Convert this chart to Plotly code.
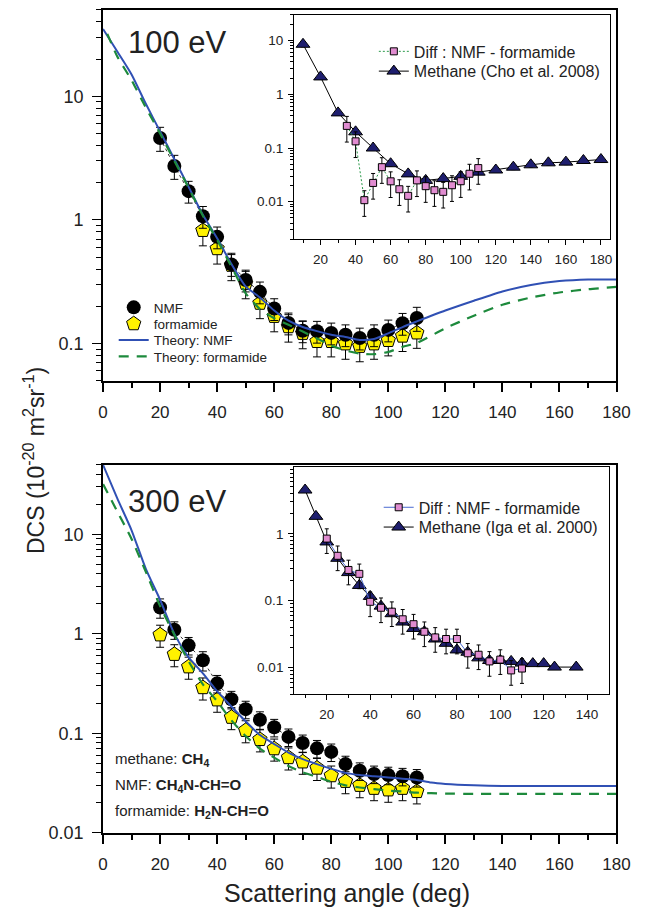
import math
import plotly.graph_objects as go

W, H = 647, 912
FONT = "Liberation Sans, Arial, sans-serif"

# ---------------- 100 eV : main panel ----------------
ang_nmf100 = [20, 25, 30, 35, 40, 45, 50, 55, 60, 65, 70, 75, 80, 85, 90, 95, 100, 105, 110]
nmf100 = [4.6, 2.73, 1.71, 1.07, 0.73, 0.437, 0.327, 0.262, 0.192, 0.147, 0.127, 0.126,
          0.122, 0.118, 0.111, 0.118, 0.129, 0.146, 0.161]
nmf100_rel = [0.22, 0.22, 0.2, 0.2, 0.2, 0.2, 0.2, 0.2, 0.2, 0.2, 0.2, 0.2,
              0.2, 0.2, 0.2, 0.2, 0.2, 0.2, 0.22]
ang_form100 = [35, 40, 45, 50, 55, 60, 65, 70, 75, 80, 85, 90, 95, 100, 105, 110]
form100 = [0.823, 0.586, 0.43, 0.307, 0.212, 0.166, 0.137, 0.121, 0.104, 0.104, 0.0995,
           0.095, 0.0995, 0.106, 0.115, 0.122]
form100_rel = [0.25, 0.25, 0.25, 0.25, 0.25, 0.25, 0.25, 0.25, 0.25, 0.25, 0.25,
               0.25, 0.25, 0.25, 0.25, 0.25]

th_ang100 = [0, 5, 10, 15, 20, 25, 30, 35, 40, 45, 50, 55, 60, 65, 70, 75, 80, 85, 90, 95,
             100, 105, 110, 120, 130, 140, 150, 160, 170, 180]
th_nmf100 = [35, 23, 15, 8.7, 5.2, 3.1, 1.85, 1.1, 0.71, 0.44, 0.29, 0.236, 0.185, 0.153,
             0.136, 0.126, 0.118, 0.113, 0.107, 0.109, 0.121, 0.136, 0.151, 0.185, 0.222,
             0.264, 0.298, 0.32, 0.33, 0.33]
th_ang100f = [1.5, 5, 10, 15, 20, 25, 30, 35, 40, 45, 50, 55, 60, 65, 70, 75, 80, 85, 90, 95,
              100, 105, 110, 120, 130, 140, 150, 160, 170, 180]
th_form100 = [32, 21, 13.5, 8.1, 5.0, 3.0, 1.82, 1.08, 0.69, 0.42, 0.255, 0.19, 0.16, 0.142,
              0.125, 0.11, 0.096, 0.088, 0.083, 0.082, 0.0855, 0.094, 0.101, 0.133, 0.168,
              0.206, 0.236, 0.259, 0.275, 0.287]

# ---------------- 100 eV : inset ----------------
ang_cho = [10, 20, 30, 40, 50, 60, 70, 80, 90, 100, 110, 120, 130, 140, 150, 160, 170, 180]
methane_cho = [8.5, 2.1, 0.45, 0.2, 0.1, 0.051, 0.033, 0.025, 0.027, 0.0297, 0.0356, 0.039,
               0.044, 0.0487, 0.053, 0.0546, 0.0586, 0.061]
methane_cho_rel = [0.1, 0.1, 0.1, 0.1, 0.1, 0.1, 0.1, 0.1, 0.1, 0.1, 0.1, 0.1,
                   0.1, 0.1, 0.1, 0.1, 0.1, 0.1]
ang_diff100 = [35, 40, 45, 50, 55, 60, 65, 70, 75, 80, 85, 90, 95, 100, 105, 110]
diff100 = [0.258, 0.133, 0.0107, 0.0224, 0.044, 0.024, 0.0171, 0.0129, 0.025, 0.0195,
           0.0164, 0.0153, 0.0203, 0.0241, 0.0332, 0.0423]
diff100_rel = [0.5, 0.5, 0.5, 0.5, 0.5, 0.5, 0.5, 0.5, 0.5, 0.5, 0.5, 0.5, 0.5, 0.5, 0.5, 0.5]

# ---------------- 300 eV : main panel ----------------
ang_exp300 = [20, 25, 30, 35, 40, 45, 50, 55, 60, 65, 70, 75, 80, 85, 90, 95, 100, 105, 110]
nmf300 = [1.84, 1.10, 0.766, 0.542, 0.318, 0.22, 0.175, 0.137, 0.115, 0.092, 0.080, 0.0706,
          0.065, 0.049, 0.042, 0.039, 0.038, 0.037, 0.036]
nmf300_rel = [0.22, 0.2, 0.2, 0.22, 0.2, 0.2, 0.2, 0.2, 0.2, 0.2, 0.2, 0.2,
              0.2, 0.2, 0.2, 0.2, 0.2, 0.2, 0.2]
form300 = [0.977, 0.622, 0.466, 0.288, 0.217, 0.145, 0.107, 0.0867, 0.070, 0.057, 0.0516,
           0.0447, 0.0375, 0.0329, 0.030, 0.028, 0.027, 0.028, 0.026]
form300_rel = [0.25, 0.25, 0.25, 0.25, 0.25, 0.25, 0.25, 0.25, 0.25, 0.25, 0.25,
               0.25, 0.25, 0.25, 0.25, 0.25, 0.25, 0.25, 0.25]

th_ang300 = [0, 5, 10, 15, 20, 25, 30, 35, 40, 45, 50, 55, 60, 65, 70, 75, 80, 85, 90, 95,
             100, 105, 110, 115, 120, 130, 140, 160, 180]
th_nmf300 = [50, 23, 11, 4.5, 2.2, 1.0, 0.58, 0.40, 0.265, 0.186, 0.132, 0.096, 0.078, 0.064,
             0.055, 0.049, 0.044, 0.040, 0.038, 0.037, 0.036, 0.035, 0.034, 0.032, 0.031,
             0.030, 0.0295, 0.0295, 0.0295]
th_form300 = [32, 17, 9, 4.2, 1.9, 0.98, 0.53, 0.31, 0.21, 0.135, 0.094, 0.070, 0.057, 0.047,
              0.0405, 0.0365, 0.0325, 0.030, 0.0285, 0.0275, 0.0265, 0.026, 0.0253, 0.025,
              0.0248, 0.0246, 0.0246, 0.0246, 0.0246]

# ---------------- 300 eV : inset ----------------
ang_iga = [10, 15, 20, 25, 30, 35, 40, 45, 50, 55, 60, 65, 70, 75, 80, 85, 90, 95, 100, 105,
           110, 115, 120, 125, 135]
methane_iga = [4.5, 1.82, 0.755, 0.43, 0.263, 0.169, 0.116, 0.083, 0.064, 0.048, 0.0385,
               0.0344, 0.0268, 0.0231, 0.0184, 0.017, 0.014, 0.0128, 0.0128, 0.0124, 0.0117,
               0.0115, 0.0115, 0.0102, 0.0102]
ang_diff300 = [20, 25, 30, 35, 40, 45, 50, 55, 60, 65, 70, 75, 80, 85, 90, 95, 100, 105, 110]
diff300 = [0.847, 0.469, 0.288, 0.252, 0.0964, 0.0785, 0.0686, 0.0528, 0.0446, 0.0344, 0.0283,
           0.0268, 0.0268, 0.0164, 0.0156, 0.0124, 0.0132, 0.0091, 0.0097]
diff300_rel = [0.4, 0.4, 0.4, 0.4, 0.4, 0.4, 0.4, 0.4, 0.4, 0.4, 0.4, 0.4, 0.4, 0.4, 0.4,
               0.4, 0.4, 0.4, 0.4]

x_ticks = [0, 20, 40, 60, 80, 100, 120, 140, 160, 180]
x_minor = [10, 30, 50, 70, 90, 110, 130, 150, 170]

# colours
BLUE = "#3050b4"
GREEN = "#1d8a3c"
YELLOW = "#fff200"
PINK = "#e08cd0"
NAVY = "#1e1e6e"

DY = 6  # vertical offset of the lower half (px)


def px(xp):
    return xp / W


def py(yp):
    return 1 - yp / H


def err(vals, rel, width=4):
    return dict(type="data", symmetric=False,
                array=[v * r for v, r in zip(vals, rel)],
                arrayminus=[v * r for v, r in zip(vals, rel)],
                color="black", thickness=1, width=width)


def minor_log(lo, hi):
    out = []
    d = math.floor(math.log10(lo))
    while 10 ** d <= hi:
        for m in range(2, 10):
            v = m * 10 ** d
            if lo * 0.999 <= v <= hi * 1.001:
                out.append(v)
        d += 1
    return out


fig = go.Figure()

# ---- top main ----
fig.add_trace(go.Scatter(x=ang_form100, y=form100, mode="markers", name="formamide",
                         marker=dict(symbol="pentagon", size=15, color=YELLOW,
                                     line=dict(color="black", width=1)),
                         error_y=err(form100, form100_rel), xaxis="x", yaxis="y",
                         legend="legend2"))
fig.add_trace(go.Scatter(x=ang_nmf100, y=nmf100, mode="lines", showlegend=False,
                         line=dict(color="black", width=0.8, dash="3px,3px"),
                         xaxis="x", yaxis="y"))
fig.add_trace(go.Scatter(x=ang_nmf100, y=nmf100, mode="markers", name="NMF",
                         marker=dict(symbol="circle", size=14, color="black"),
                         error_y=err(nmf100, nmf100_rel), xaxis="x", yaxis="y",
                         legend="legend"))
fig.add_trace(go.Scatter(x=th_ang100, y=th_nmf100, mode="lines", name="Theory: NMF",
                         line=dict(color=BLUE, width=2, shape="spline", smoothing=0.6),
                         xaxis="x", yaxis="y", legend="legend3"))
fig.add_trace(go.Scatter(x=th_ang100f, y=th_form100, mode="lines", name="Theory: formamide",
                         line=dict(color=GREEN, width=2.2, dash="10px,8px", shape="spline",
                                   smoothing=0.6),
                         xaxis="x", yaxis="y", legend="legend4"))

# ---- top inset ----
fig.add_trace(go.Scatter(x=ang_cho, y=methane_cho, mode="lines+markers",
                         name="Methane (Cho et al. 2008)",
                         line=dict(color="black", width=1),
                         marker=dict(symbol="triangle-up", size=12, color=NAVY,
                                     line=dict(color="black", width=1)),
                         error_y=err(methane_cho, methane_cho_rel, 2),
                         xaxis="x3", yaxis="y3", legend="legend6"))
fig.add_trace(go.Scatter(x=ang_diff100, y=diff100, mode="lines+markers",
                         name="Diff : NMF - formamide",
                         line=dict(color="#2a9a4a", width=1, dash="2px,2px"),
                         marker=dict(symbol="square", size=7, color=PINK,
                                     line=dict(color="black", width=1)),
                         error_y=err(diff100, diff100_rel, 2),
                         xaxis="x3", yaxis="y3", legend="legend5"))

# ---- bottom main ----
fig.add_trace(go.Scatter(x=ang_exp300, y=form300, mode="markers", showlegend=False,
                         marker=dict(symbol="pentagon", size=15, color=YELLOW,
                                     line=dict(color="black", width=1)),
                         error_y=err(form300, form300_rel), xaxis="x2", yaxis="y2"))
fig.add_trace(go.Scatter(x=ang_exp300, y=nmf300, mode="lines", showlegend=False,
                         line=dict(color="black", width=0.8, dash="3px,3px"),
                         xaxis="x2", yaxis="y2"))
fig.add_trace(go.Scatter(x=ang_exp300, y=nmf300, mode="markers", showlegend=False,
                         marker=dict(symbol="circle", size=14, color="black"),
                         error_y=err(nmf300, nmf300_rel), xaxis="x2", yaxis="y2"))
fig.add_trace(go.Scatter(x=th_ang300, y=th_nmf300, mode="lines", showlegend=False,
                         line=dict(color=BLUE, width=2, shape="spline", smoothing=0.6),
                         xaxis="x2", yaxis="y2"))
fig.add_trace(go.Scatter(x=th_ang300, y=th_form300, mode="lines", showlegend=False,
                         line=dict(color=GREEN, width=2.2, dash="10px,8px", shape="spline",
                                   smoothing=0.6),
                         xaxis="x2", yaxis="y2"))

# ---- bottom inset ----
fig.add_trace(go.Scatter(x=ang_iga, y=methane_iga, mode="lines+markers",
                         name="Methane (Iga et al. 2000)",
                         line=dict(color="black", width=1),
                         marker=dict(symbol="triangle-up", size=12, color=NAVY,
                                     line=dict(color="black", width=1)),
                         xaxis="x4", yaxis="y4", legend="legend8"))
fig.add_trace(go.Scatter(x=ang_diff300, y=diff300, mode="lines+markers",
                         name="Diff : NMF - formamide",
                         line=dict(color="#4a6ad0", width=1),
                         marker=dict(symbol="square", size=7, color=PINK,
                                     line=dict(color="black", width=1)),
                         error_y=err(diff300, diff300_rel, 2),
                         xaxis="x4", yaxis="y4", legend="legend7"))


def main_x(domain, anchor):
    return dict(domain=domain, anchor=anchor, range=[0, 180], tickvals=x_ticks,
                ticktext=[str(v) for v in x_ticks],
                ticks="outside", ticklen=9, tickwidth=1.5, tickcolor="black",
                showline=True, linewidth=2, linecolor="black", mirror=True,
                showgrid=False, zeroline=False, ticklabelstandoff=6,
                tickfont=dict(size=17, family=FONT, color="#222"),
                minor=dict(tickvals=x_minor, ticks="outside", ticklen=5, tickwidth=1.5,
                           tickcolor="black", showgrid=False))


def log_y(domain, anchor, lo, hi, vals, size, ticklen, minlen, lw, standoff):
    return dict(domain=domain, anchor=anchor, type="log",
                range=[math.log10(lo), math.log10(hi)],
                tickvals=vals, ticktext=[("%g" % v) for v in vals],
                ticks="outside", ticklen=ticklen, tickwidth=1.2, tickcolor="black",
                showline=True, linewidth=lw, linecolor="black", mirror=True,
                showgrid=False, zeroline=False, ticklabelstandoff=standoff,
                tickfont=dict(size=size, family=FONT, color="#222"),
                minor=dict(tickvals=minor_log(lo, hi), ticks="outside", ticklen=minlen,
                           tickwidth=1, tickcolor="black", showgrid=False))


def inset_x(domain, anchor, lo, hi, vals, minors):
    return dict(domain=domain, anchor=anchor, range=[lo, hi], tickvals=vals,
                ticktext=[str(v) for v in vals], ticks="outside", ticklen=5,
                tickwidth=1, tickcolor="black", showline=True, linewidth=1.3,
                linecolor="black", mirror=True, showgrid=False, zeroline=False,
                ticklabelstandoff=2,
                tickfont=dict(size=13.5, family=FONT, color="#222"),
                minor=dict(tickvals=minors, ticks="outside", ticklen=3, tickwidth=1,
                           tickcolor="black", showgrid=False))


def leg(xp, yp, size):
    return dict(x=px(xp), y=py(yp), xanchor="left", yanchor="middle",
                bgcolor="rgba(0,0,0,0)", borderwidth=0, itemwidth=30,
                font=dict(size=size, family=FONT, color="#222"),
                tracegroupgap=0)


fig.update_layout(
    width=W, height=H, margin=dict(l=0, r=0, t=0, b=0),
    paper_bgcolor="white", plot_bgcolor="white",
    font=dict(family=FONT, color="#222"),
    xaxis=main_x([px(101), px(630)], "y"),
    yaxis=log_y([py(385), py(10)], "x", 0.05, 50, [0.1, 1, 10], 18, 9, 5, 2, 5),
    xaxis2=main_x([px(101), px(630)], "y2"),
    yaxis2=log_y([py(836 + DY), py(464 + DY)], "x2", 0.01, 50, [0.01, 0.1, 1, 10],
                 18, 9, 5, 2, 5),
    xaxis3=inset_x([px(298), px(623)], "y3", 5, 185,
                   [20, 40, 60, 80, 100, 120, 140, 160, 180],
                   [10, 30, 50, 70, 90, 110, 130, 150, 170]),
    yaxis3=log_y([py(242), py(15)], "x3", 0.002, 30, [0.01, 0.1, 1, 10], 13.5, 5, 3, 1.3, 2),
    xaxis4=inset_x([px(298), px(622)], "y4", 5, 150,
                   [20, 40, 60, 80, 100, 120, 140],
                   [10, 30, 50, 70, 90, 110, 130]),
    yaxis4=log_y([py(696 + DY), py(466 + DY)], "x4", 0.004, 10, [0.01, 0.1, 1],
                 13.5, 5, 3, 1.3, 2),
    legend=leg(112, 311, 13.5),
    legend2=leg(112, 327.5, 13.5),
    legend3=leg(112, 344, 13.5),
    legend4=leg(112, 360.5, 13.5),
    legend5=leg(380, 52, 16),
    legend6=leg(380, 72, 16),
    legend7=leg(385, 507 + DY, 16),
    legend8=leg(385, 527 + DY, 16),
    showlegend=True,
)

annots = [
    dict(text="100 eV", x=px(178), y=py(43), font=dict(size=31)),
    dict(text="300 eV", x=px(178), y=py(501 + DY), font=dict(size=31)),
    dict(text="DCS (10<sup>-20</sup> m<sup>2</sup>sr<sup>-1</sup>)", x=px(30), y=py(466),
         textangle=-90, font=dict(size=23)),
    dict(text="Scattering angle (deg)", x=px(352), y=py(903), font=dict(size=25)),
    dict(text="methane: <b>CH<sub>4</sub></b>", x=px(111), y=py(762 + DY), xanchor="left",
         font=dict(size=15)),
    dict(text="NMF: <b>CH<sub>4</sub>N-CH=O</b>", x=px(111), y=py(788 + DY), xanchor="left",
         font=dict(size=15)),
    dict(text="formamide: <b>H<sub>2</sub>N-CH=O</b>", x=px(111), y=py(815 + DY),
         xanchor="left", font=dict(size=15)),
]
for a in annots:
    a.setdefault("xanchor", "center")
    a.update(xref="paper", yref="paper", yanchor="middle", showarrow=False)
    a["font"].update(family=FONT, color="#222")
    fig.add_annotation(**a)

fig.write_html("out.html")
